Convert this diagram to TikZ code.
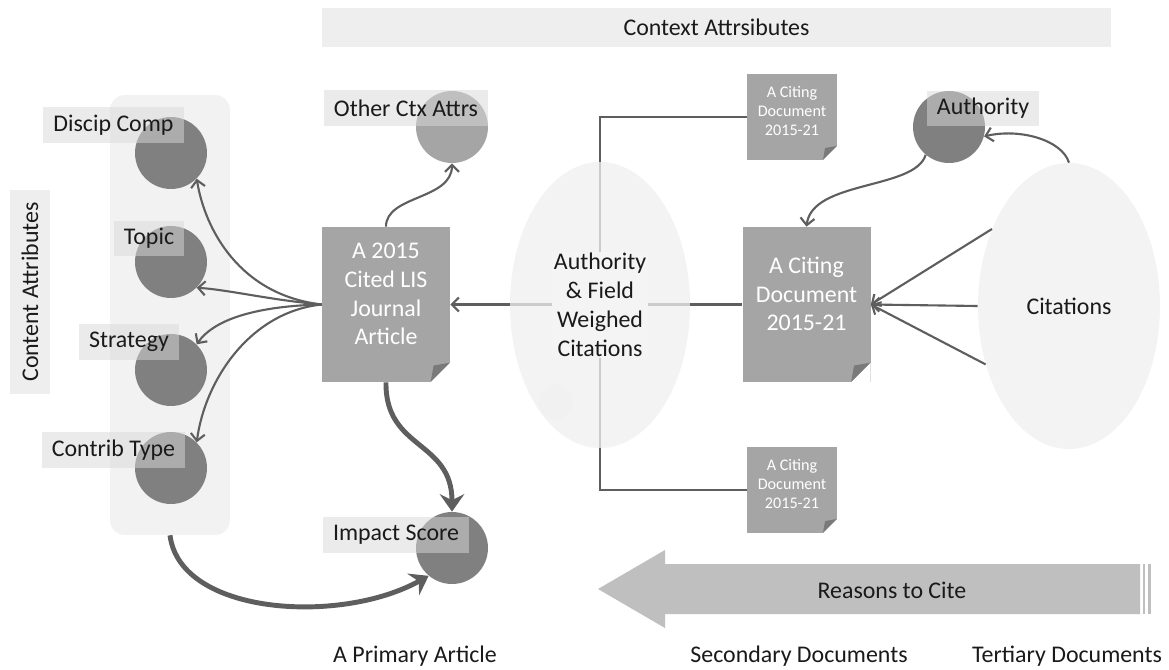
\documentclass[tikz,border=0pt]{standalone}
\usepackage{fontspec}
\setmainfont{Carlito}
\usetikzlibrary{arrows.meta,shapes.geometric}
\definecolor{circdark}{HTML}{808080}
\definecolor{circlight}{HTML}{A5A5A5}
\definecolor{docfill}{HTML}{A5A5A5}
\definecolor{docfold}{HTML}{7A7A7A}
\definecolor{labelfill}{HTML}{D9D9D9}
\definecolor{panelfill}{HTML}{F2F2F2}
\definecolor{bannerfill}{HTML}{EEEEEE}
\definecolor{ellfill}{HTML}{F0F0F0}
\definecolor{elltext}{HTML}{F4F4F4}
\definecolor{linegray}{HTML}{5E5E5E}
\definecolor{arrowfill}{HTML}{BFBFBF}
\definecolor{textdark}{HTML}{1A1A1A}
\pgfdeclarelayer{bg}
\pgfsetlayers{bg,main}
\newcommand{\bodyfont}{\fontsize{13.6}{16.4}\selectfont}
\newcommand{\smallfont}{\fontsize{9.2}{10.8}\selectfont}
\newcommand{\foldcorner}[1]{%
  \fill[white] ([xshift=-#1]path picture bounding box.south east) -- ([yshift=#1]path picture bounding box.south east) -- (path picture bounding box.south east) -- cycle;
  \fill[docfold] ([xshift=-#1]path picture bounding box.south east) -- ([yshift=#1]path picture bounding box.south east) -- ([shift={(-0.85*#1,0.85*#1)}]path picture bounding box.south east) -- cycle;}

\begin{document}
\begin{tikzpicture}[x=0.02cm,y=-0.02cm,
    every node/.style={font=\bodyfont, text=textdark},
    banner/.style={fill=bannerfill, inner sep=0pt},
    panel/.style={fill=panelfill, rounded corners=0.3cm, inner sep=0pt},
    attr/.style={circle, fill=circdark, minimum size=1.44cm, inner sep=0pt},
    attrlabel/.style={fill=labelfill, fill opacity=0.5, text opacity=1, inner xsep=0.2cm, inner ysep=0pt, minimum height=0.72cm},
    docbox/.style={fill=docfill, minimum width=2.56cm, minimum height=3.1cm, inner sep=0pt, path picture={\foldcorner{11pt}}},
    smalldoc/.style={fill=docfill, minimum width=1.8cm, minimum height=1.72cm, inner sep=0pt, path picture={\foldcorner{8pt}}},
    doctext/.style={text=white, align=center, inner sep=0pt},
    bubble/.style={ellipse, fill=ellfill, fill opacity=0.75, text opacity=1, inner sep=0pt},
    conn/.style={draw=linegray, line width=1.2pt},
    thinarrow/.style={conn, -{Straight Barb[length=4pt,width=8pt]}},
    thickarrow/.style={draw=linegray, line width=2.8pt, -{Stealth[length=10pt,width=14pt,inset=3.5pt]}}]
  \useasboundingbox (0,0) rectangle (1169,669);
  \begin{pgfonlayer}{bg}
    \fill[white] (0,0) rectangle (1169,669);
  \end{pgfonlayer}

  % headings
  \node[banner, minimum width=15.78cm, minimum height=0.78cm] (ctxbar) at (716.5,27.5) {Context Attrsibutes};
  \node[banner, rotate=90, minimum width=4.1cm, minimum height=0.8cm] (cntbar) at (30,292) {Content Attributes};

  % content attributes
  \node[panel, minimum width=2.4cm, minimum height=8.8cm] (cntgrp) at (170,315) {};
  \node[attr] (discip) at (171,153) {};
  \node[attr] (topic) at (171,262) {};
  \node[attr] (strat) at (171,370) {};
  \node[attr] (contrib) at (171,468) {};

  % primary article
  \node[docbox, label={[doctext, yshift=6pt]center:{A 2015\\Cited LIS\\Journal\\Article}}] (article) at (386,304.5) {};
  \node[attr, fill=circlight] (otherctx) at (452,127) {};
  \node[attr] (impact) at (452,548) {};

  % citing documents
  \node[docbox, label={[doctext, yshift=6pt]center:{A Citing\\Document\\2015-21}}] (citing) at (806.5,304.5) {};
  \node[smalldoc, label={[doctext, font=\smallfont, yshift=3.4pt]center:{A Citing\\Document\\2015-21}}] (citetop) at (792,117) {};
  \node[smalldoc, label={[doctext, font=\smallfont, yshift=3.4pt]center:{A Citing\\Document\\2015-21}}] (citebot) at (792,490) {};
  \node[attr] (authority) at (949,127) {};

  \begin{pgfonlayer}{bg}
    \draw[thinarrow] (citing.west) -- (article.east);
    \draw[conn] (citetop.west) -| (600,305) |- (citebot.west);
  \end{pgfonlayer}

  \node[bubble, minimum width=3.6cm, minimum height=5.72cm,
    label={[fill=elltext, inner sep=1pt, align=center]center:{Authority\\\& Field\\Weighed\\Citations}}] (weighed) at (600,305) {};
  \node[circle, fill=gray!12, fill opacity=0.35, minimum size=0.7cm] (ghost) at (556,402) {};
  \node[bubble, minimum width=3.64cm, minimum height=5.72cm] (citations) at (1069,306) {Citations};

  % connectors
  \draw[thinarrow] (article.west) .. controls (240,295) and (205,230) .. (discip.-45);
  \draw[thinarrow] (article.west) .. controls (270,300) and (230,290) .. (topic.-45);
  \draw[thinarrow] (article.west) .. controls (260,306) and (215,318) .. (strat.45);
  \draw[thinarrow] (article.west) .. controls (250,312) and (205,380) .. (contrib.45);
  \draw[thinarrow] (article.north) .. controls (386,195) and (452,200) .. (otherctx.south);
  \draw[thickarrow] (article.south) .. controls (385,450) and (452,440) .. (impact.north);
  \draw[thickarrow] (cntgrp.south) .. controls (180,615) and (340,625) .. (impact.-130);
  \draw[thinarrow] (authority.-130) .. controls (915,190) and (812,180) .. (citing.north);
  \draw[thinarrow] (citations.north) .. controls (1062,140) and (1020,128) .. (authority.-15);
  \foreach \ang in {135,180,215}
    \draw[thinarrow] (citations.\ang) -- (citing.east);

  % attribute labels
  \node[attrlabel] (discip-lbl) at (113.5,125) {Discip Comp};
  \node[attrlabel] (topic-lbl) at (149,238.5) {Topic};
  \node[attrlabel] (strat-lbl) at (129,341.5) {Strategy};
  \node[attrlabel] (contrib-lbl) at (113.5,450) {Contrib Type};
  \node[attrlabel] (otherctx-lbl) at (406,108) {Other Ctx Attrs};
  \node[attrlabel] (authority-lbl) at (983,108.5) {Authority};
  \node[attrlabel] (impact-lbl) at (396,535) {Impact Score};

  % reasons arrow
  \fill[arrowfill] (598,589) -- (665,550) -- (665,564) -- (1140,564) -- (1140,614) -- (665,614) -- (665,628) -- cycle;
  \fill[arrowfill] (1143,564) rectangle (1145,614);
  \fill[arrowfill] (1148,564) rectangle (1151,614);
  \node (reasons) at (892,590) {Reasons to Cite};

  % document levels
  \node (primary) at (415,656) {A Primary Article};
  \node (secondary) at (799,656) {Secondary Documents};
  \node (tertiary) at (1067,656) {Tertiary Documents};
\end{tikzpicture}
\end{document}
